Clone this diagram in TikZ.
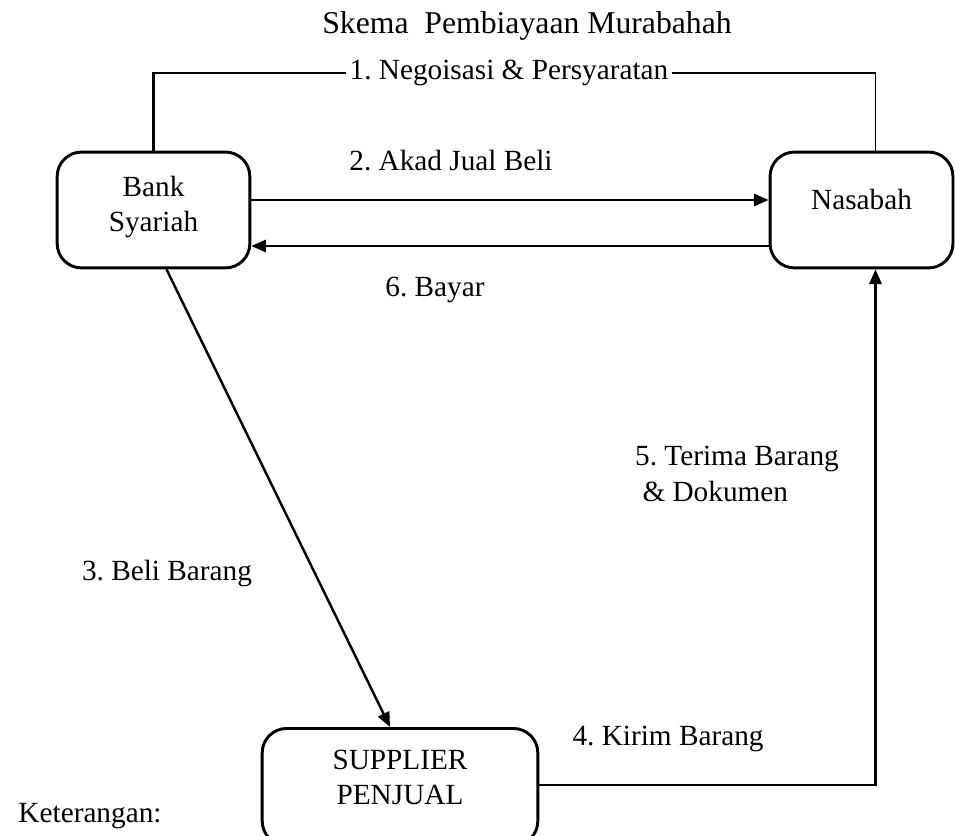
\documentclass[tikz,border=0pt]{standalone}
\usepackage{fontspec}
\setmainfont{Liberation Serif}
\usepackage{tikz}
\usetikzlibrary{arrows.meta}
\usetikzlibrary{calc,positioning}

\begin{document}
\frenchspacing
\begin{tikzpicture}[x=0.41pt,y=-0.41pt,line width=1pt,font=\fontsize{12}{14.5}\selectfont]
    \tikzstyle{box}=[rectangle, rounded corners=10pt, draw, line width=1.2pt, align=center, inner sep=0pt]
    \tikzstyle{arr}=[-{Triangle[length=6pt,width=5pt]}]
    \tikzstyle{lbl}=[inner sep=1pt]

    \clip (0,0) rectangle (955,836);

    \node[lbl, font=\fontsize{13}{15}\selectfont] (title) at (527,26) {Skema\ \ Pembiayaan Murabahah};

    \node[box, minimum width=79pt, minimum height=47.5pt, text depth=5pt] (bank) at (153.5,210) {Bank\\Syariah};
    \node[box, minimum width=75pt, minimum height=47.5pt, text depth=9pt] (nas)  at (861.5,210) {Nasabah};
    \node[box, minimum width=113pt, minimum height=48pt, text depth=8pt] (sup)  at (400,787) {SUPPLIER\\PENJUAL};

    \node[lbl]    (neg)  at (509,73)  {1. Negoisasi \& Persyaratan};
    \node[lbl]    (akad) at (451,161) {2. Akad Jual Beli};
    \node[lbl]    (beli) at (167,574) {3. Beli Barang};
    \node[lbl]    (kirim) at (668,739) {4. Kirim Barang};
    \node[lbl, align=left] (terima) at (737,474) {5. Terima Barang\\\hspace{3pt}\& Dokumen};
    \node[lbl]    (bayar) at (435,290) {6. Bayar};
    \node[lbl]    (ket)  at (90,816) {Keterangan:};

    \coordinate (nasup) at ($(nas.north)+(14,0)$);
    \coordinate (nasin) at ($(nas.south)+(14,0)$);
    \coordinate (supout) at ($(sup.east)+(0,-2)$);

    % negoisasi
    \draw (bank.north) |- (neg.west);
    \draw (neg.east) -- (neg.east -| nasup);
    \draw[line width=0.5pt] (neg.east -| nasup) -- (nasup);

    % akad dan bayar
    \draw[arr] ($(bank.east)+(0,-10)$) -- ($(nas.west)+(0,-10)$);
    \draw[arr] ($(nas.west)+(0,36)$) -- ($(bank.east)+(0,36)$);

    % beli barang
    \draw[arr] ($(bank.south)+(13,0)$) -- ($(sup.north)+(-10,0)$);

    % kirim barang
    \draw[arr] (supout) -- (supout -| nasin) -- (nasin);
\end{tikzpicture}
\end{document}
